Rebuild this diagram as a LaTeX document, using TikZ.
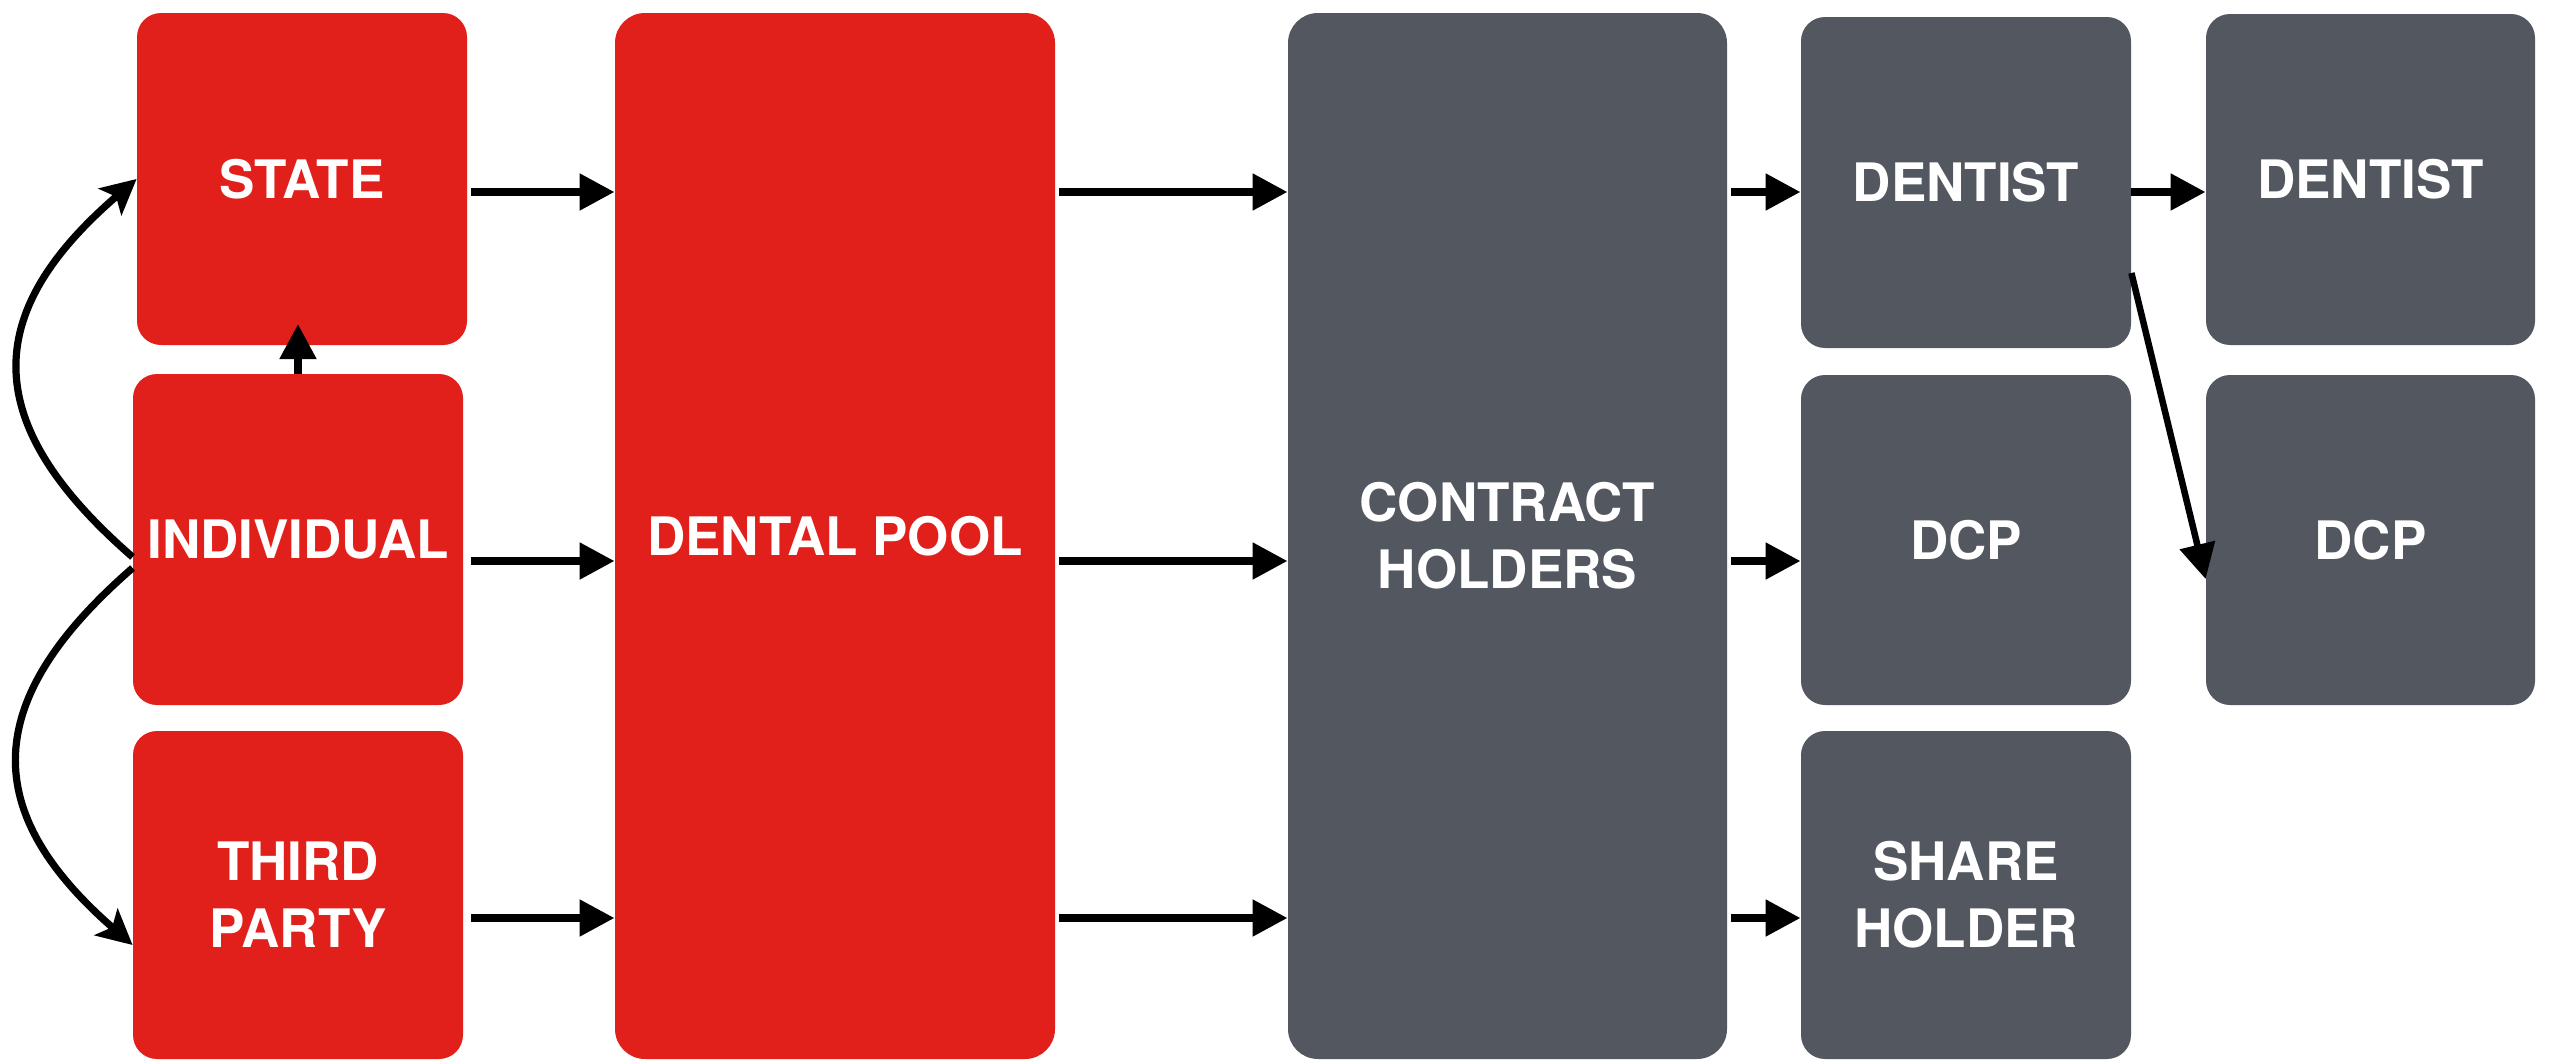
\documentclass[tikz,border=0pt]{standalone}
\usepackage{fontspec}
\setmainfont{TeX Gyre Heros}
\usetikzlibrary{arrows.meta}
\definecolor{boxred}{HTML}{E1201B}
\definecolor{boxgray}{HTML}{535860}
\tikzset{
  box/.style={rounded corners=12pt, inner sep=0pt, text=white, align=center,
    font=\fontsize{26.5}{33.5}\selectfont\bfseries},
  redbox/.style={box, fill=boxred},
  graybox/.style={box, fill=boxgray},
  arr/.style={line width=4pt, -{Triangle[length=17.5pt,width=17.5pt]}},
  thinarr/.style={line width=3.25pt, -{Triangle[length=17.5pt,width=17.5pt]}},
  curvearr/.style={line width=3.6pt, -{Stealth[length=17.5pt,width=17.5pt,inset=4pt]}},
}
\begin{document}
\begin{tikzpicture}[x=0.5pt,y=-0.5pt]
\useasboundingbox (0,0) rectangle (2550,1060);
% column 1
\node[redbox, minimum width=165pt, minimum height=166pt] (state) at (302,179) {STATE};
\node[redbox, minimum width=165pt, minimum height=165.5pt] (ind) at (298,539.5) {INDIVIDUAL};
\node[redbox, minimum width=165pt, minimum height=164pt] (third) at (298,895) {THIRD\\PARTY};
% column 2
\node[redbox, rounded corners=15pt, minimum width=220pt, minimum height=523pt] (pool) at (835,536) {DENTAL POOL};
% column 3
\node[graybox, rounded corners=15pt, minimum width=219.5pt, minimum height=523pt] (contract) at (1507.5,536) {CONTRACT\\HOLDERS};
% column 4
\node[graybox, minimum width=165pt, minimum height=165.5pt] (dent1) at (1966,182.5) {DENTIST};
\node[graybox, minimum width=165pt, minimum height=165pt] (dcp1) at (1966,540) {DCP};
\node[graybox, minimum width=165pt, minimum height=164pt] (share) at (1966,895) {SHARE\\HOLDER};
% column 5
\node[graybox, minimum width=164.5pt, minimum height=165.5pt] (dent2) at (2370.5,179.5) {DENTIST};
\node[graybox, minimum width=164.5pt, minimum height=165pt] (dcp2) at (2370.5,540) {DCP};
% row levels
\coordinate (r1) at (0,192);
\coordinate (r2) at (0,561);
\coordinate (r3) at (0,918);
\coordinate (d1) at (0,273);
\coordinate (d2) at (0,579);
\coordinate (v) at (0,324);
\coordinate (c1) at (0,557);
\coordinate (c2) at (0,568);
\coordinate (t3) at (0,945);
% arrows col1 -> pool
\draw[arr, shorten <=2pt] (state.east |- r1) -- (pool.west |- r1);
\draw[arr, shorten <=2pt] ([xshift=2pt]ind.east |- r2) -- (pool.west |- r2);
\draw[arr, shorten <=2pt] ([xshift=2pt]third.east |- r3) -- (pool.west |- r3);
% pool -> contract
\draw[arr, shorten <=2pt] (pool.east |- r1) -- (contract.west |- r1);
\draw[arr, shorten <=2pt] (pool.east |- r2) -- (contract.west |- r2);
\draw[arr, shorten <=2pt] (pool.east |- r3) -- (contract.west |- r3);
% contract -> column 4
\draw[arr, shorten <=2pt] (contract.east |- r1) -- (dent1.west |- r1);
\draw[arr, shorten <=2pt] (contract.east |- r2) -- (dcp1.west |- r2);
\draw[arr, shorten <=2pt] (contract.east |- r3) -- (share.west |- r3);
% column 4 -> column 5
\draw[arr] (dent1.east |- r1) -- (dent2.west |- r1);
\draw[thinarr] (dent1.east |- d1) -- (dcp2.west |- d2);
% individual -> state
\draw[arr] (ind.north) -- (ind.north |- v);
% curved arrows
\draw[curvearr] (ind.west |- c1) .. controls +(-153,-133) and +(-157,135) .. (state.west);
\draw[curvearr] (ind.west |- c2) .. controls +(-153,133) and +(-153,-133) .. (third.west |- t3);
\end{tikzpicture}
\end{document}
